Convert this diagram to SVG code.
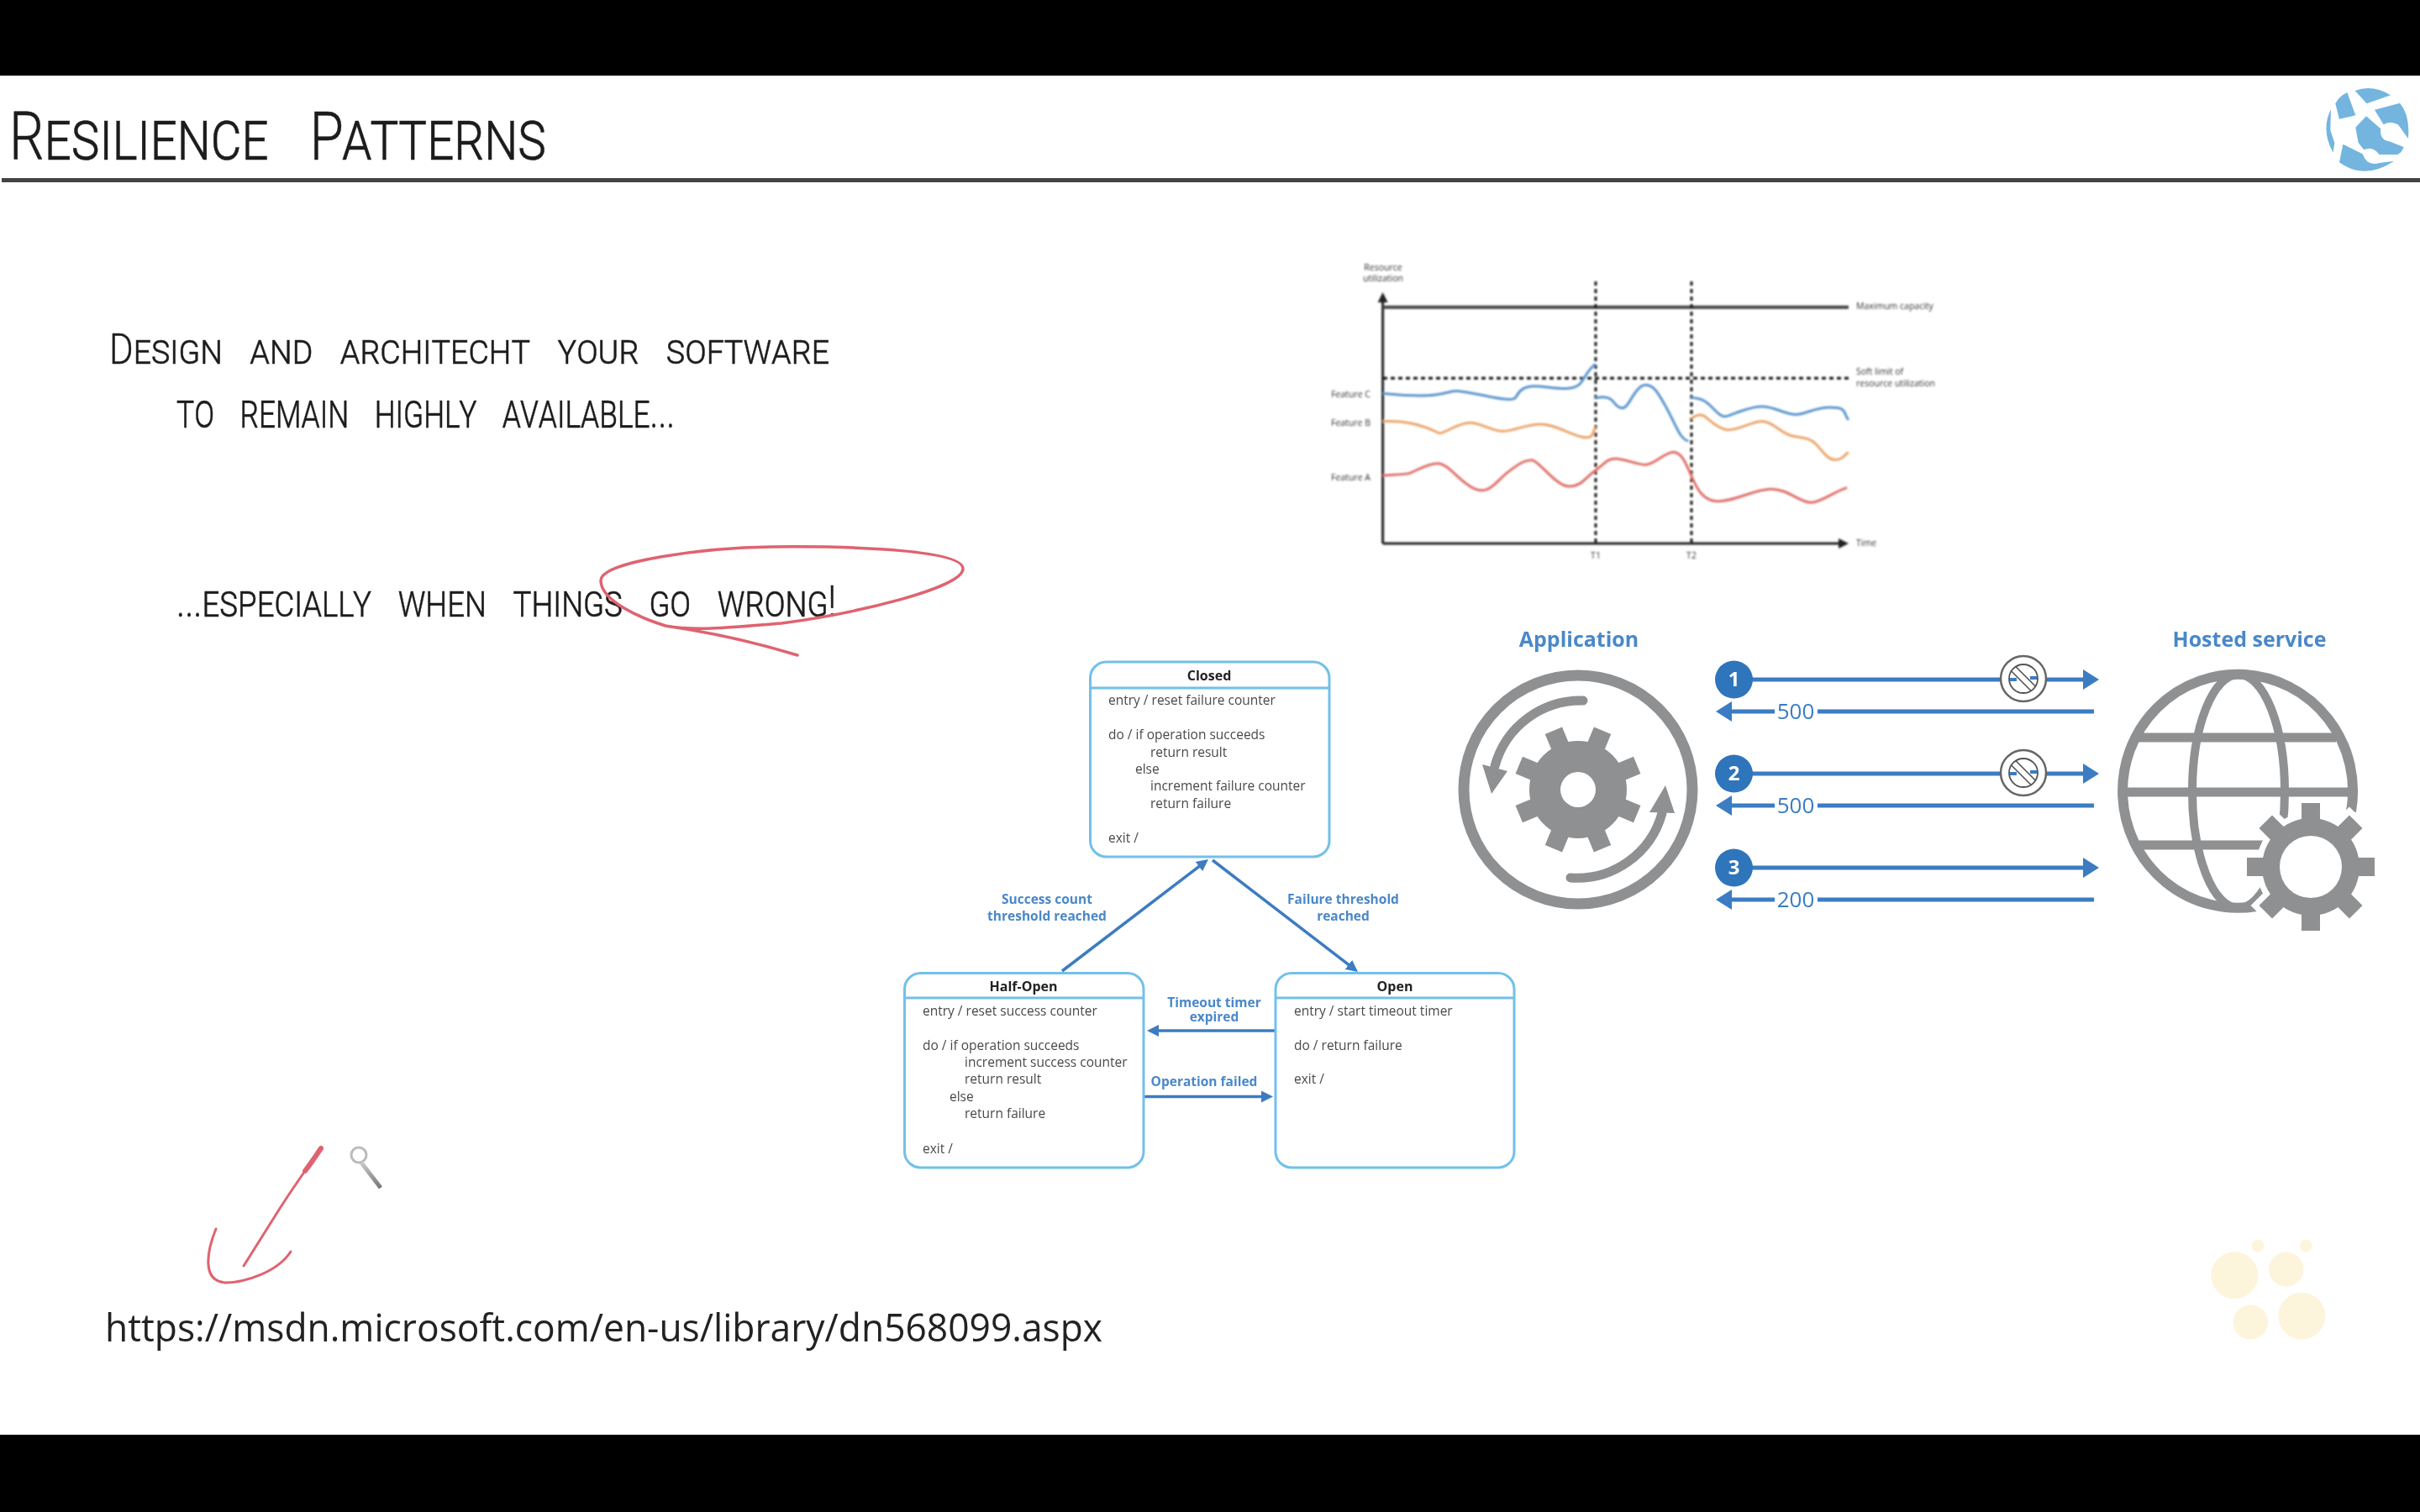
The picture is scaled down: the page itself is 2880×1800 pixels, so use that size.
<svg xmlns="http://www.w3.org/2000/svg" xmlns:xlink="http://www.w3.org/1999/xlink" width="2880" height="1800" viewBox="0 0 2880 1800">
<defs>
<style>
.hand{font-family:"Roboto","Liberation Sans",sans-serif;font-weight:300;font-variant:small-caps;fill:#1c1c1c;stroke:#1c1c1c;stroke-width:.5;word-spacing:.5em}
.st{font-family:"Open Sans","Liberation Sans",sans-serif;font-size:15.5px;fill:#4a4a4a}
.stt{font-family:"Open Sans","Liberation Sans",sans-serif;font-size:16px;font-weight:700;fill:#222;text-anchor:middle}
.lb{font-family:"Open Sans","Liberation Sans",sans-serif;font-size:15.5px;font-weight:700;fill:#4a88c8;text-anchor:middle}
.ch{font-family:"Open Sans","Liberation Sans",sans-serif;font-size:10.5px;fill:#333}
.hd{font-family:"Open Sans","Liberation Sans",sans-serif;font-size:25px;font-weight:700;fill:#4a88c8;text-anchor:middle}
.num{font-family:"Open Sans","Liberation Sans",sans-serif;font-size:26px;fill:#3a7cc2;text-anchor:middle}
.bt{font-family:"Open Sans","Liberation Sans",sans-serif;font-size:24px;font-weight:700;fill:#fff;text-anchor:middle}
.box{fill:#fff;stroke:#72c0ea;stroke-width:3}
.div{stroke:#72c0ea;stroke-width:3}
.blue{stroke:#3a7cc2;stroke-width:5;fill:none}
.st-arrow{stroke:#3a7cc2;stroke-width:3.5;fill:none}
.gray{stroke:#8f9092;fill:none}
.curve{fill:none;stroke-width:3;stroke-linejoin:round;vector-effect:non-scaling-stroke}
.red{fill:none;stroke:#e0626f;stroke-linecap:round;stroke-linejoin:round}
</style>
<filter id="b1" x="-5%" y="-5%" width="110%" height="110%"><feGaussianBlur stdDeviation="0.7"/></filter>
<filter id="b2" x="-5%" y="-5%" width="110%" height="110%"><feGaussianBlur stdDeviation="1"/></filter>
<marker id="ahBlue" viewBox="0 0 19 24" refX="2" refY="12" markerWidth="19" markerHeight="24" markerUnits="userSpaceOnUse" orient="auto"><path d="M0,0L19,12L0,24Z" fill="#3a7cc2"/></marker>
<marker id="ahState" viewBox="0 0 14 14" refX="2" refY="7" markerWidth="14" markerHeight="14" markerUnits="userSpaceOnUse" orient="auto"><path d="M0,0L14,7L0,14Z" fill="#3a7cc2"/></marker>
<marker id="ahAxis" viewBox="0 0 12 12" refX="2" refY="6" markerWidth="12" markerHeight="12" markerUnits="userSpaceOnUse" orient="auto"><path d="M0,0L12,6L0,12Z" fill="#222"/></marker>
<linearGradient id="mag" x1="0" y1="0" x2="0" y2="1"><stop offset="0" stop-color="#c9c9c9"/><stop offset="1" stop-color="#777"/></linearGradient>
<g id="gear"><circle r="58"/><rect x="-11" y="-76" width="22" height="26"/><rect x="-11" y="-76" width="22" height="26" transform="rotate(45)"/><rect x="-11" y="-76" width="22" height="26" transform="rotate(90)"/><rect x="-11" y="-76" width="22" height="26" transform="rotate(135)"/><rect x="-11" y="-76" width="22" height="26" transform="rotate(180)"/><rect x="-11" y="-76" width="22" height="26" transform="rotate(225)"/><rect x="-11" y="-76" width="22" height="26" transform="rotate(270)"/><rect x="-11" y="-76" width="22" height="26" transform="rotate(315)"/></g>
<g id="noSym"><circle r="27" fill="#fff" stroke="#666" stroke-width="2.5"/><circle r="17" fill="#fff" stroke="#555" stroke-width="1.8"/><path d="M-16,1H-8M8,-1H16" stroke="#3a7cc2" stroke-width="4"/><path d="M-14,-9L9,14M-9,-14L14,9" stroke="#555" stroke-width="1.8"/><path d="M-11,-11L11,11" stroke="#fff" stroke-width="6"/></g>
</defs>
<rect width="2880" height="1800" fill="#fff"/>
<g id="frame"><rect width="2880" height="90" fill="#000"/><rect y="1708" width="2880" height="92" fill="#000"/><rect x="2" y="212" width="2878" height="5" fill="#444"/></g>
<g id="title" filter="url(#b1)"><text class="hand" x="11" y="190" font-size="80" textLength="639" lengthAdjust="spacingAndGlyphs">Resilience Patterns</text></g>
<g id="logo" filter="url(#b1)" transform="translate(2580,80) scale(.3333)" fill="#73b5df">
<path d="M640,90Q610,105 598,130L612,185L670,172Z"/><path d="M668,84Q730,60 795,100L710,130Z"/><path d="M738,152L828,128Q865,170 858,255L822,205Q790,190 770,205Z"/><path d="M708,175L760,220Q755,260 790,265L842,285Q835,305 820,312L755,312Q730,280 700,295L680,270L670,215Z"/><path d="M582,150Q545,225 590,305L595,270L580,225Z"/><path d="M625,275L612,340Q700,405 808,335L755,342Q710,355 695,310Z"/></g>
<g id="intro" filter="url(#b1)">
<text class="hand" x="130" y="433" font-size="50" textLength="857" lengthAdjust="spacingAndGlyphs">Design and architecht your software</text>
<text class="hand" x="210" y="509" font-size="56" textLength="593" lengthAdjust="spacingAndGlyphs">to remain highly available...</text>
<text class="hand" x="210" y="734" font-size="52" textLength="785" lengthAdjust="spacingAndGlyphs">...especially when things go wrong!</text>
<path class="red" stroke-width="3.5" d="M949,780C900,765 840,752 792,745C830,752 880,746 930,742C1020,730 1146,700 1146,677C1146,655 1020,650 918,651C840,652 715,668 715,691C715,715 760,735 792,745"/>
</g>
<g id="chart" filter="url(#b2)">
<g fill="none" stroke="#222"><path d="M1645.6,647V358" stroke-width="3" marker-end="url(#ahAxis)"/><path d="M1645.6,647H2190" stroke-width="3" marker-end="url(#ahAxis)"/></g>
<path d="M1646,365.7H2200" stroke="#444" stroke-width="4" fill="none"/>
<path d="M1646,450.3H2200" stroke="#111" stroke-width="3" stroke-dasharray="5 4" fill="none"/>
<path d="M1899,335V647M2013,335V647" stroke="#111" stroke-width="2.8" stroke-dasharray="5 4" fill="none"/>
<g transform="translate(1540,290) scale(.5102,.3333)">
<path class="curve" stroke="#5b95cd" d="M207,535C240,540 290,548 330,540S360,525 385,527S450,548 490,555S510,540 535,518S600,522 640,517S670,470 703,430"/>
<path class="curve" stroke="#5b95cd" d="M703,552C720,545 735,545 745,565S765,595 775,580S800,505 820,505S850,535 870,590S900,700 920,705"/>
<path class="curve" stroke="#5b95cd" d="M927,550C960,555 965,570 985,600S1010,615 1030,605S1070,580 1095,582S1140,605 1165,610S1210,585 1250,585S1280,600 1293,630"/>
<path class="curve" stroke="#eca56c" d="M207,635C250,632 290,640 340,678C360,670 385,640 410,640S460,668 485,670S540,645 575,645S640,680 670,690S695,680 703,655"/>
<path class="curve" stroke="#eca56c" d="M927,625C935,615 945,608 955,615S985,660 1010,665S1070,632 1095,635S1135,680 1165,688S1205,695 1220,720S1245,772 1262,772S1285,755 1293,745"/>
<path class="curve" stroke="#e0706a" d="M207,828C230,825 260,825 270,820S310,785 335,785S385,850 420,875S470,850 500,815S540,773 555,773S610,865 640,867S680,835 703,810S730,768 750,768S800,790 820,790S865,745 885,745S915,790 927,830S950,915 985,920S1070,880 1110,877S1180,925 1205,925S1260,885 1290,872"/>
</g>
<g class="ch"><text x="1646" y="322" text-anchor="middle">Resource</text><text x="1646" y="335" text-anchor="middle">utilization</text><text x="2209" y="368">Maximum capacity</text><text x="2209" y="446">Soft limit of</text><text x="2209" y="460">resource utilization</text><text x="1631" y="473" text-anchor="end">Feature C</text><text x="1631" y="507" text-anchor="end">Feature B</text><text x="1631" y="572" text-anchor="end">Feature A</text><text x="1899" y="665" text-anchor="middle">T1</text><text x="2013" y="665" text-anchor="middle">T2</text><text x="2209" y="650">Time</text></g>
</g>
<g id="connectors" filter="url(#b1)">
<path class="st-arrow" d="M1264,1156L1428.5,1030.3" marker-end="url(#ahState)"/>
<path class="st-arrow" d="M1443,1024L1606.5,1149.7" marker-end="url(#ahState)"/>
<path class="st-arrow" d="M1518,1227H1377" marker-end="url(#ahState)"/>
<path class="st-arrow" d="M1362,1305.5H1503" marker-end="url(#ahState)"/>
<g class="lb"><text x="1246" y="1076">Success count</text><text x="1246" y="1096">threshold reached</text><text x="1598.5" y="1076">Failure threshold</text><text x="1598.5" y="1096">reached</text><text x="1445" y="1199">Timeout timer</text><text x="1445" y="1216">expired</text><text x="1433" y="1292.5">Operation failed</text></g>
<path class="blue" d="M2064,809H2481" marker-end="url(#ahBlue)"/>
<path class="blue" d="M2492,847H2163M2112,847H2059" marker-end="url(#ahBlue)"/>
<path class="blue" d="M2064,921H2481" marker-end="url(#ahBlue)"/>
<path class="blue" d="M2492,959H2163M2112,959H2059" marker-end="url(#ahBlue)"/>
<path class="blue" d="M2064,1033H2481" marker-end="url(#ahBlue)"/>
<path class="blue" d="M2492,1071H2163M2112,1071H2059" marker-end="url(#ahBlue)"/>
<g class="num"><text x="2137" y="856">500</text><text x="2137" y="968">500</text><text x="2137" y="1080">200</text></g>
<use href="#noSym" x="2408" y="808"/><use href="#noSym" x="2408" y="920"/>
</g>
<g id="closed" filter="url(#b1)"><rect class="box" x="1297.5" y="788" width="284.5" height="232" rx="19"/><path class="div" d="M1297.5,819H1582"/><text class="stt" x="1439" y="810">Closed</text><g class="st"><text x="1319" y="839.4">entry / reset failure counter</text><text x="1319" y="880">do / if operation succeeds</text><text x="1369" y="900.6">return result</text><text x="1351" y="921">else</text><text x="1369" y="941.4">increment failure counter</text><text x="1369" y="962">return failure</text><text x="1319" y="1002.7">exit /</text></g></g>
<g id="half-open" filter="url(#b1)"><rect class="box" x="1076.5" y="1158.6" width="284.5" height="231.4" rx="19"/><path class="div" d="M1076.5,1188H1361"/><text class="stt" x="1218" y="1180">Half-Open</text><g class="st"><text x="1098" y="1209">entry / reset success counter</text><text x="1098" y="1249.6">do / if operation succeeds</text><text x="1148" y="1270">increment success counter</text><text x="1148" y="1290.4">return result</text><text x="1130" y="1311">else</text><text x="1148" y="1331">return failure</text><text x="1098" y="1373">exit /</text></g></g>
<g id="open" filter="url(#b1)"><rect class="box" x="1518" y="1158.6" width="284" height="231.4" rx="19"/><path class="div" d="M1518,1188H1802"/><text class="stt" x="1660" y="1180">Open</text><g class="st"><text x="1540" y="1209">entry / start timeout timer</text><text x="1540" y="1249.6">do / return failure</text><text x="1540" y="1290.4">exit /</text></g></g>
<g id="application" filter="url(#b1)"><text class="hd" x="1879" y="770">Application</text><circle class="gray" cx="1878" cy="940" r="136" stroke-width="13"/><path class="gray" stroke-width="11" stroke-linecap="round" d="M1884,834A106,106 0 0 0 1779,912"/><path d="M1775,945L1764,910L1794,918Z" fill="#8f9092"/><path class="gray" stroke-width="11" stroke-linecap="round" d="M1869,1045A105,105 0 0 0 1978,968"/><path d="M1982,935L1963,967L1993,968Z" fill="#8f9092"/><g transform="translate(1878,940) rotate(22.5)"><use href="#gear" fill="#8f9092"/><circle r="21" fill="#fff"/></g></g>
<g id="hosted-service" filter="url(#b1)"><text class="hd" x="2677" y="770">Hosted service</text><path class="gray" stroke-width="12" d="M2798,966A137,139 0 1 0 2685,1079"/><ellipse class="gray" cx="2664" cy="942" rx="55" ry="139" stroke-width="10"/><path class="gray" stroke-width="11" d="M2541,878H2780M2526,943H2796M2541,1006H2700"/><g transform="translate(2750,1032)"><use href="#gear" fill="#fff" stroke="#fff" stroke-width="14"/><use href="#gear" fill="#8f9092"/><circle r="37" fill="#fff"/></g></g>
<g id="badges" filter="url(#b1)"><circle cx="2063.5" cy="809" r="22.5" fill="#2f75bb"/><text class="bt" x="2063.5" y="817">1</text><circle cx="2063.5" cy="921" r="22.5" fill="#2f75bb"/><text class="bt" x="2063.5" y="929">2</text><circle cx="2063.5" cy="1033" r="22.5" fill="#2f75bb"/><text class="bt" x="2063.5" y="1041">3</text></g>
<g id="annotation" filter="url(#b1)"><path class="red" stroke-width="3" d="M382,1367C362,1395 345,1420 334,1437L290,1507"/><path class="red" stroke-width="6" d="M382,1367C376,1376 370,1385 363,1394"/><path class="red" stroke-width="3" d="M257,1463C246,1490 240,1525 268,1527C290,1527 330,1515 346,1490"/><ellipse cx="427" cy="1375" rx="9" ry="9" fill="none" stroke="#bbb" stroke-width="3"/><path d="M430,1384L453,1414" stroke="url(#mag)" stroke-width="5" fill="none"/></g>
<g id="url" filter="url(#b1)"><text x="125" y="1597" font-family="'Open Sans','Liberation Sans',sans-serif" font-size="45" fill="#222" textLength="1187" lengthAdjust="spacingAndGlyphs">https://msdn.microsoft.com/en-us/library/dn568099.aspx</text></g>
<g id="watermark" transform="translate(2580,1440) scale(.3333)" fill="#fdf4dc"><circle cx="238" cy="235" r="84"/><circle cx="422" cy="213" r="62"/><circle cx="295" cy="402" r="62"/><circle cx="478" cy="380" r="84"/><circle cx="321" cy="129" r="22"/><circle cx="493" cy="129" r="22"/></g>
</svg>
